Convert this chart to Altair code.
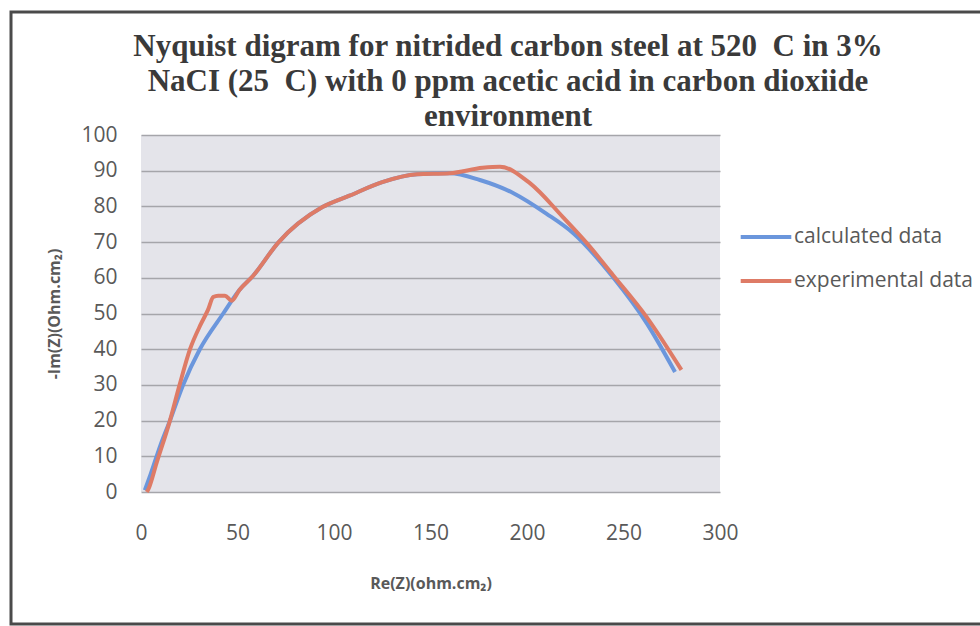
import altair as alt
import pandas as pd

# Nyquist data: real part (x) and negative imaginary part (y), ohm.cm2
calc_re = [2, 5, 10, 15, 21.8, 30.5, 42.6, 51, 58, 71, 94, 108, 125, 143, 160,
           175.6, 193, 210, 224, 244.5, 262, 276.7]
calc_im = [0.5, 5, 13, 20, 30, 40, 50, 56.6, 60.5, 69.8, 79.8, 83, 86.8, 89, 89.3,
           87.4, 83.7, 78, 72.5, 60.2, 47.3, 33.6]

exp_re = [3, 4, 8, 15, 20, 25.4, 31, 34.7, 37.4, 40, 43.5, 47, 51, 58, 71, 94, 108,
          125, 143, 160, 177, 186, 201.5, 218.6, 231, 244.5, 262, 280]
exp_im = [0, 1, 8, 20, 30, 40, 47, 51, 54.6, 55, 55, 53.6, 56.6, 60.5, 69.8, 79.8, 83,
          86.8, 89, 89.3, 90.8, 91.1, 86.5, 77, 69.7, 60.8, 49, 34.2]

series_names = ["calculated data", "experimental data"]
series_colors = ["#6b96dc", "#de7b66"]

rows = []
for i, (r, m) in enumerate(zip(calc_re, calc_im)):
    rows.append({"series": series_names[0], "re": r, "im": m, "idx": i})
for i, (r, m) in enumerate(zip(exp_re, exp_im)):
    rows.append({"series": series_names[1], "re": r, "im": m, "idx": i})
df = pd.DataFrame(rows)

W, H = 579, 357
PAD_L, PAD_T = 141, 135

label_font = "Open Sans"
axis_grey = "#595959"

lines = alt.Chart(df).mark_line(strokeWidth=4, interpolate="monotone").encode(
    x=alt.X("re:Q",
            scale=alt.Scale(domain=[0, 300], nice=False),
            axis=alt.Axis(values=[0, 50, 100, 150, 200, 250, 300], grid=False,
                          title="Re(Z)(ohm.cm₂)", titlePadding=32,
                          labelPadding=30, labelFlush=False,
                          ticks=False, domain=False)),
    y=alt.Y("im:Q",
            scale=alt.Scale(domain=[0, 100], nice=False),
            axis=alt.Axis(values=list(range(0, 101, 10)), grid=True,
                          gridColor="#a5a5aa", gridWidth=1.5,
                          title="-Im(Z)(Ohm.cm₂)", titlePadding=18,
                          labelPadding=24, labelFlush=False,
                          ticks=False, domain=False)),
    color=alt.Color("series:N",
                    scale=alt.Scale(domain=series_names, range=series_colors),
                    legend=alt.Legend(title=None, orient="none",
                                      legendX=601, legendY=78,
                                      symbolType="M-1.15,0H1.15",
                                      symbolSize=1936, symbolStrokeWidth=4,
                                      labelFont=label_font, labelFontSize=21,
                                      labelColor=axis_grey, labelOffset=4,
                                      rowPadding=10, labelLimit=400)),
    order="idx:Q",
)

# outer frame around the whole figure
frame = alt.Chart(pd.DataFrame({"k": [0]})).mark_rect(
    fill=None, stroke="#4a4a4a", strokeWidth=3, clip=False
).encode(
    x=alt.value(-130), x2=alt.value(880),
    y=alt.value(-123), y2=alt.value(489),
)

chart = alt.layer(frame, lines).properties(
    width=W, height=H,
    autosize=alt.AutoSizeParams(type="none"),
    padding={"left": PAD_L, "top": PAD_T, "right": 980 - PAD_L - W, "bottom": 626 - PAD_T - H},
    title=alt.TitleParams(
        text=["Nyquist digram for nitrided carbon steel at 520\u00a0 C in 3%",
              "NaCI (25\u00a0 C) with 0 ppm acetic acid in carbon dioxiide",
              "environment"],
        font="Liberation Serif", fontSize=31, fontWeight="bold", color="#3a3a3a",
        anchor="start", align="center", frame="group", dx=367, offset=-122,
        lineHeight=35,
    ),
).configure(background="white").configure_view(
    fill="#e4e4ea", stroke=None
).configure_axis(
    labelFont=label_font, labelFontSize=21, labelColor=axis_grey,
    titleFont=label_font, titleFontSize=16, titleFontWeight="bold", titleColor=axis_grey,
)

chart.save("out.html", embed_options={"renderer": "svg", "actions": False})
